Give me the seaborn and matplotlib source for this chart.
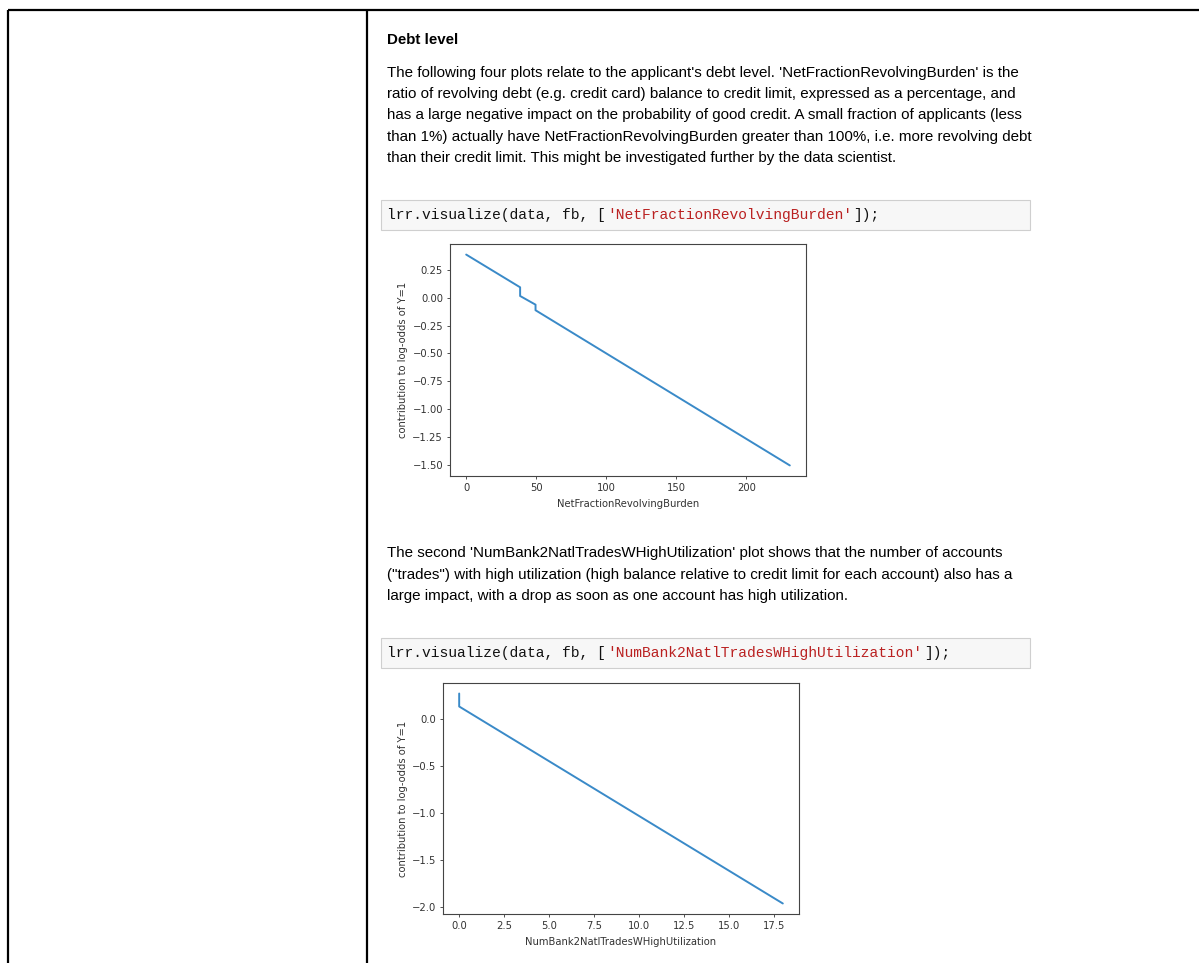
"""Notebook cell screenshot: debt level contribution plots."""

import matplotlib

matplotlib.use("Agg")
import matplotlib.pyplot as plt
import seaborn as sns
from matplotlib.patches import Rectangle

W, H = 1199, 963

# --- data ---
burden_x = [0, 38.5, 38.5, 49.5, 49.5, 231]
burden_y = [0.388, 0.094, 0.016, -0.062, -0.112, -1.506]
burden_xticks = [0, 50, 100, 150, 200]
burden_yticks = [-1.50, -1.25, -1.00, -0.75, -0.50, -0.25, 0.00, 0.25]

util_x = [0, 0, 18]
util_y = [0.273, 0.135, -1.962]
util_xticks = [0.0, 2.5, 5.0, 7.5, 10.0, 12.5, 15.0, 17.5]
util_yticks = [-2.0, -1.5, -1.0, -0.5, 0.0]

heading = "Debt level"
para1 = [
    "The following four plots relate to the applicant's debt level. 'NetFractionRevolvingBurden' is the",
    "ratio of revolving debt (e.g. credit card) balance to credit limit, expressed as a percentage, and",
    "has a large negative impact on the probability of good credit. A small fraction of applicants (less",
    "than 1%) actually have NetFractionRevolvingBurden greater than 100%, i.e. more revolving debt",
    "than their credit limit. This might be investigated further by the data scientist.",
]
para2 = [
    "The second 'NumBank2NatlTradesWHighUtilization' plot shows that the number of accounts",
    "(\"trades\") with high utilization (high balance relative to credit limit for each account) also has a",
    "large impact, with a drop as soon as one account has high utilization.",
]
code1 = ["lrr.visualize(data, fb, [", "'NetFractionRevolvingBurden'", "]);"]
code2 = ["lrr.visualize(data, fb, [", "'NumBank2NatlTradesWHighUtilization'", "]);"]
ylabel = "contribution to log-odds of Y=1"

sns.set_style("ticks")
plt.rcParams["font.family"] = ["DejaVu Sans"]

fig = plt.figure(figsize=(W / 100, H / 100), dpi=100)
bg = fig.add_axes([0, 0, 1, 1])
bg.set_xlim(0, W)
bg.set_ylim(H, 0)
bg.axis("off")

# table frame
bg.plot([8, W], [10, 10], color="black", lw=1.6, solid_capstyle="butt")
bg.plot([8, 8], [10, H], color="black", lw=1.6, solid_capstyle="butt")
bg.plot([367, 367], [10, H], color="black", lw=1.6, solid_capstyle="butt")

TXT = dict(family="Liberation Sans", fontsize=10.9, color="#000000", va="center", ha="left")
bg.text(387, 40, heading, weight="bold", **TXT)
for i, line in enumerate(para1):
    bg.text(387, 73.3 + i * 21.1, line, **TXT)
for i, line in enumerate(para2):
    bg.text(387, 553.3 + i * 21.2, line, **TXT)

CHAR = 8.8


def code_cell(top, pieces):
    bg.add_patch(Rectangle((381, top), 649, 30, facecolor="#f7f7f7", edgecolor="#cfcfcf", lw=0.8))
    x = 387
    colors = ["#111111", "#ba2121", "#111111"]
    for piece, col in zip(pieces, colors):
        bg.text(x, top + 15.5, piece, family="Liberation Mono", fontsize=10.56,
                color=col, va="center", ha="left")
        x += CHAR * len(piece)


code_cell(200, code1)
code_cell(638, code2)


def plot_axes(x0, y0, x1, y1):
    return fig.add_axes([x0 / W, 1 - y1 / H, (x1 - x0) / W, (y1 - y0) / H])


def style(ax, xlabel, xticks, yticks, fmt):
    ax.set_xticks(xticks)
    ax.set_yticks(yticks)
    ax.set_yticklabels([fmt.format(v).replace("-", "\u2212") for v in yticks])
    ax.set_xlabel(xlabel, fontsize=7.2, color="#333333", labelpad=4)
    ax.set_ylabel(ylabel, fontsize=7.2, color="#333333", labelpad=3)
    ax.tick_params(labelsize=7.2, colors="#333333", length=2.5, width=0.6, pad=2.5)
    for s in ax.spines.values():
        s.set_color("#444444")
        s.set_linewidth(0.8)


LINE = "#3a8ac8"

ax1 = plot_axes(450, 244, 806, 476)
sns.lineplot(x=burden_x, y=burden_y, sort=False, estimator=None, color=LINE, lw=1.4, ax=ax1)
style(ax1, "NetFractionRevolvingBurden", burden_xticks, burden_yticks, "{:.2f}")
ax1.set_xlim(-11.55, 242.55)
ax1.set_ylim(-1.601, 0.483)

ax2 = plot_axes(443, 683, 799, 914)
sns.lineplot(x=util_x, y=util_y, sort=False, estimator=None, color=LINE, lw=1.4, ax=ax2)
style(ax2, "NumBank2NatlTradesWHighUtilization", util_xticks, util_yticks, "{:.1f}")
ax2.set_xticklabels([f"{v:.1f}" for v in util_xticks])
ax2.set_xlim(-0.9, 18.9)
ax2.set_ylim(-2.074, 0.385)

fig.savefig("out.png", dpi=100, facecolor="white")
